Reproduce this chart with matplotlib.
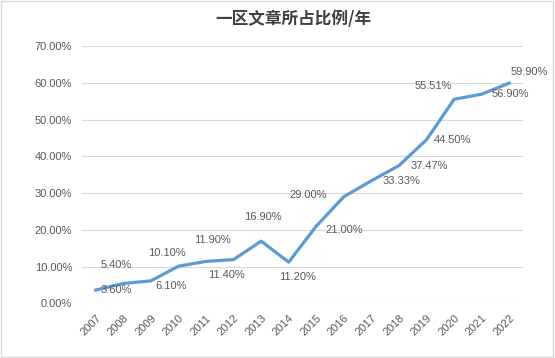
import matplotlib.pyplot as plt
from matplotlib.patches import Rectangle

years = ['2007', '2008', '2009', '2010', '2011', '2012', '2013', '2014',
         '2015', '2016', '2017', '2018', '2019', '2020', '2021', '2022']
share = [3.60, 5.40, 6.10, 10.10, 11.40, 11.90, 16.90, 11.20,
         21.00, 29.00, 33.33, 37.47, 44.50, 55.51, 56.90, 59.90]

# label offsets in pixels (dx, dy) relative to each point
label_off = [(21, 0), (-7, 18), (20, -5), (-12, 13), (20, -14), (-21, 20),
             (2, 24), (9, -15), (28, -4), (-36, 2), (30, 0), (30, 0),
             (26, 0), (-21, 13), (29, 0), (20, 11)]

plt.rcParams['font.family'] = ['Liberation Sans', 'Noto Sans CJK SC']
grey = '#595959'

fig = plt.figure(figsize=(5.55, 3.58), dpi=100)
ax = fig.add_axes([82/555, 1-303.3/358, 441/555, 257.3/358])
fig.patches.append(Rectangle((0.002, 0.003), 0.995, 0.994, transform=fig.transFigure,
                             fill=False, edgecolor='#D9D9D9', lw=1))

x = list(range(len(years)))
vals = [v/100 for v in share]
ax.plot(x, vals, color='#5B9BD5', lw=2.3, solid_joinstyle='round', zorder=3)

for i, v in enumerate(share):
    ax.annotate('%.2f%%' % v, (i, vals[i]), xytext=label_off[i], textcoords='offset pixels',
                ha='center', va='center', fontsize=8, color=grey)

ax.set_xlim(-0.5, len(years)-0.5)
ax.set_ylim(0, 0.7)
ax.set_yticks([i/10 for i in range(8)])
ax.set_yticklabels(['%.2f%%' % (i*10) for i in range(8)])
ax.set_xticks(x)
ax.set_xticklabels(years, rotation=45, ha='right', va='top', rotation_mode='anchor')
ax.tick_params(length=0, labelsize=8, colors=grey, pad=7)
ax.grid(axis='y', color='#D9D9D9', lw=0.8)
ax.set_axisbelow(True)
for s in ax.spines.values():
    s.set_visible(False)

fig.text(293/555, 1-19/358, '一区文章所占比例/年', ha='center', va='center',
         fontsize=12, fontweight='bold', color='#404040', family=['Noto Sans CJK SC'])

fig.savefig('out.png', dpi=100)
